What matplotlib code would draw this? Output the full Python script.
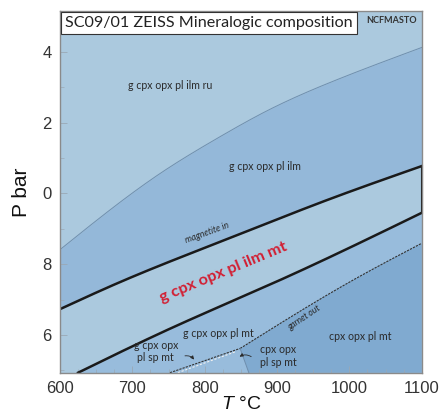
import numpy as np
import matplotlib
matplotlib.use("Agg")
import matplotlib.pyplot as plt
from matplotlib.ticker import MultipleLocator, FixedLocator, FixedFormatter

plt.rcParams['font.family'] = ['Liberation Sans', 'DejaVu Sans']
plt.rcParams['mathtext.fontset'] = 'custom'
plt.rcParams['mathtext.it'] = 'Liberation Sans:italic'
plt.rcParams['mathtext.rm'] = 'Liberation Sans'

# ---- data (T in °C, P in kbar) ----
x_ticks = [600, 700, 800, 900, 1000, 1100]
y_ticks = [6, 8, 10, 12, 14]
y_ticklabels = ["6", "8", "0", "2", "4"]

# thin boundary (ilm ru / ilm)
thin_T = [600, 739, 817, 886, 978, 1100]
thin_P = [8.41, 10.57, 11.55, 12.33, 13.17, 14.12]
# magnetite-in (upper thick line)
mag_T = [600, 678, 840, 960, 1100]
mag_P = [6.73, 7.45, 8.78, 9.74, 10.77]
# lower thick line
lo_T = [625, 748, 904, 1100]
lo_P = [4.935, 6.14, 7.55, 9.45]
# garnet-out (dashed) and its continuation to the bottom
gout_T = [849, 1005, 1100]
gout_P = [5.62, 7.55, 8.59]
vert_T = [849, 861]
vert_P = [5.62, 4.935]
# spinel lines (dashed, lower left)
sp1_T = [752, 849]
sp1_P = [4.935, 5.62]
sp2_T = [763, 843]
sp2_P = [4.935, 5.53]

labels = {
    "g cpx opx pl ilm ru": (0.304, 0.795),
    "g cpx opx pl ilm": (0.567, 0.570),
    "g cpx opx pl mt": (0.438, 0.109),
    "cpx opx pl mt": (0.829, 0.101),
    "g cpx opx\npl sp mt": (0.265, 0.058),
    "cpx opx\npl sp mt": (0.604, 0.046),
}

c_light = "#abc9de"
c_med = "#94b8d9"
c_med2 = "#98bcdc"
c_dark = "#80aad0"

xlim = (600, 1100)
ylim = (4.935, 15.15)


def spline(xs, ys, xq):
    """Natural cubic spline through the read points (smooth drawing only)."""
    x = np.asarray(xs, float)
    y = np.asarray(ys, float)
    n = len(x)
    if n < 3:
        return np.interp(xq, x, y)
    h = np.diff(x)
    A = np.zeros((n, n))
    b = np.zeros(n)
    A[0, 0] = A[-1, -1] = 1
    for i in range(1, n - 1):
        A[i, i - 1] = h[i - 1]
        A[i, i] = 2 * (h[i - 1] + h[i])
        A[i, i + 1] = h[i]
        b[i] = 3 * ((y[i + 1] - y[i]) / h[i] - (y[i] - y[i - 1]) / h[i - 1])
    c = np.linalg.solve(A, b)
    xq = np.asarray(xq, float)
    idx = np.clip(np.searchsorted(x, xq) - 1, 0, n - 2)
    dx = xq - x[idx]
    bb = (y[idx + 1] - y[idx]) / h[idx] - h[idx] * (2 * c[idx] + c[idx + 1]) / 3
    dd = (c[idx + 1] - c[idx]) / (3 * h[idx])
    return y[idx] + bb * dx + c[idx] * dx ** 2 + dd * dx ** 3


fig = plt.figure(figsize=(4.43, 4.16), dpi=100)
ax = fig.add_axes([60/443, 1-372.7/416, 361.7/443, 361.7/416])
ax.set_xlim(*xlim)
ax.set_ylim(*ylim)
ax.set_facecolor(c_light)

T = np.linspace(600, 1100, 501)
thin = spline(thin_T, thin_P, T)
mag = spline(mag_T, mag_P, T)
Tl = np.linspace(lo_T[0], 1100, 401)
lo = spline(lo_T, lo_P, Tl)
ax.fill_between(T, mag, thin, color=c_med, lw=0, zorder=1)
ax.fill_between(Tl, ylim[0], lo, color=c_med2, lw=0, zorder=1)
# dark region right of garnet-out
Tg = np.linspace(gout_T[0], 1100, 201)
gP = spline(gout_T, gout_P, Tg)
poly_T = list(vert_T[::-1]) + list(Tg) + [1100, vert_T[1]]
poly_P = list(vert_P[::-1]) + list(gP) + [ylim[0], ylim[0]]
ax.fill(poly_T, poly_P, color=c_dark, lw=0, zorder=1.5)

ax.plot(T, thin, color="#6f8fae", lw=0.7, zorder=2)
ax.plot(T, mag, color="#1a1a1a", lw=1.8, zorder=3)
ax.plot(Tl, lo, color="#1a1a1a", lw=1.8, zorder=3)
ax.plot([1100, 1100], [lo_P[-1], mag_P[-1]], color="#1a1a1a", lw=1.5, zorder=3, clip_on=False)
ax.plot(Tg, gP, color="#333333", lw=0.8, ls=(0, (2, 1)), zorder=3)
ax.plot(sp1_T, sp1_P, color="#333333", lw=0.8, ls=(0, (2, 1)), zorder=3)
ax.plot(sp2_T, sp2_P, color="#f0f0f0", lw=0.8, ls=(0, (2, 1.5)), zorder=3)
ax.plot(vert_T, vert_P, color="#6f8fae", lw=0.7, zorder=3)

tf = "Lato"
for s, (fx, fy) in labels.items():
    ax.text(fx, fy, s, transform=ax.transAxes, ha="center", va="center",
            fontsize=7.6, family=tf, color="#2a2a2a", linespacing=1.15, zorder=5)

ax.text(0.408, 0.386, "magnetite in", transform=ax.transAxes, ha="center", va="center",
        fontsize=6.4, family=tf, style="italic", rotation=20, color="#2a2a2a", zorder=5)
ax.text(0.675, 0.153, "garnet out", transform=ax.transAxes, ha="center", va="center",
        fontsize=6.2, family=tf, style="italic", rotation=34, color="#2a2a2a", zorder=5)
ax.text(0.453, 0.278, "g cpx opx pl ilm mt", transform=ax.transAxes, ha="center", va="center",
        fontsize=11.8, family=tf, weight="bold", rotation=22.5, color="#d21f33", zorder=5)
ax.text(0.917, 0.975, "NCFMASTO", transform=ax.transAxes, ha="center", va="center",
        fontsize=6.5, family=tf, weight="bold", color="#333333", zorder=7)

# small arrows
ax.annotate("", xy=(0.375, 0.030), xytext=(0.338, 0.045), xycoords=ax.transAxes,
            arrowprops=dict(arrowstyle="-|>", color="#2a2a2a", lw=0.6, mutation_scale=5,
                            connectionstyle="arc3,rad=-0.4"), zorder=5)
ax.annotate("", xy=(0.49, 0.040), xytext=(0.535, 0.040), xycoords=ax.transAxes,
            arrowprops=dict(arrowstyle="-|>", color="#2a2a2a", lw=0.6, mutation_scale=5,
                            connectionstyle="arc3,rad=0.4"), zorder=5)

# title box
ax.text(0.014, 0.968, "SC09/01 ZEISS Mineralogic composition", transform=ax.transAxes,
        ha="left", va="center", fontsize=11.6, family=tf, color="#222222", zorder=6,
        bbox=dict(boxstyle="square,pad=0.25", fc="white", ec="#333333", lw=0.8))

ax.xaxis.set_major_locator(FixedLocator(x_ticks))
ax.xaxis.set_minor_locator(MultipleLocator(25))
ax.yaxis.set_major_locator(FixedLocator(y_ticks))
ax.yaxis.set_major_formatter(FixedFormatter(y_ticklabels))
ax.yaxis.set_minor_locator(MultipleLocator(1))
ax.tick_params(which="both", direction="in", color="#9aa8b5", labelsize=12,
               labelcolor="#333333", pad=6)
ax.tick_params(which="major", length=5, width=0.6)
ax.tick_params(which="minor", length=3, width=0.5)
for sp in ax.spines.values():
    sp.set_color("#8a8a8a")
    sp.set_linewidth(1.0)
    sp.set_zorder(4)

ax.set_ylabel("P bar", fontsize=15, color="#111111", labelpad=8)
ax.set_xlabel(r"$\mathit{T}$ °C", fontsize=14, color="#111111", labelpad=0)

fig.savefig("out.png", dpi=100)
